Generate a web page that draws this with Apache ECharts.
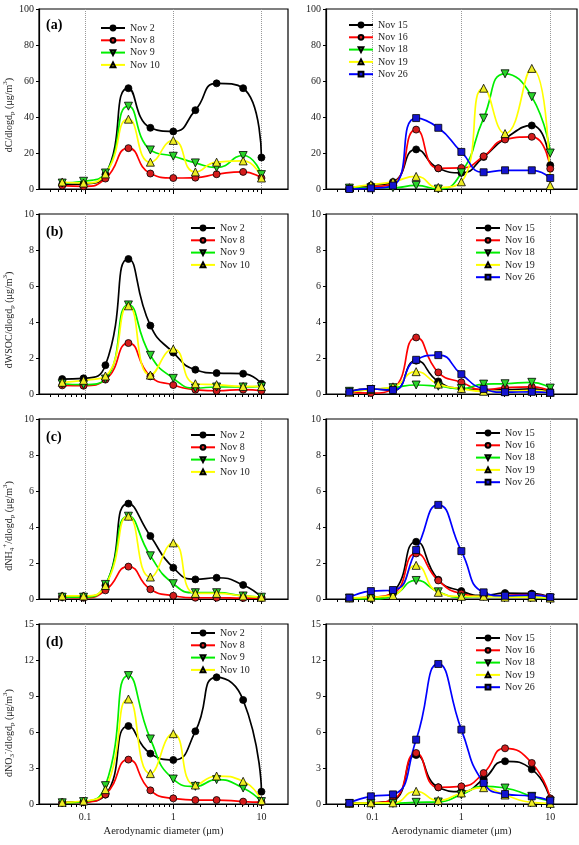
<!DOCTYPE html>
<html><head><meta charset="utf-8">
<script src="https://cdn.jsdelivr.net/npm/echarts@6/dist/echarts.min.js"></script>
<style>html,body{margin:0;padding:0;background:#fff}#c{width:579px;height:845px}</style>
</head><body><div id="c"></div>
<script>
// ---------- data ----------
const diameters = [0.055, 0.096, 0.17, 0.31, 0.55, 1.0, 1.78, 3.1, 6.2, 10];
const leftDays = ['Nov 2', 'Nov 8', 'Nov 9', 'Nov 10'];
const rightDays = ['Nov 15', 'Nov 16', 'Nov 18', 'Nov 19', 'Nov 26'];
const xTickLabels = [0.1, 1, 10];
const xMinorTicks = [0.04,0.05,0.06,0.07,0.08,0.09,0.2,0.3,0.4,0.5,0.6,0.7,0.8,0.9,2,3,4,5,6,7,8,9];
const panelLetters = ['(a)', '(b)', '(c)', '(d)'];
const yMaxes = [100, 10, 10, 15];
const yIntervals = [20, 2, 2, 3];
const yNames = [
  'dC/dlogd{sub|p} (μg/m{sup|3})',
  'dWSOC/dlogd{sub|p} (μg/m{sup|3})',
  'dNH{sub|4}{sup|+}/dlogd{sub|p} (μg/m{sup|3})',
  'dNO{sub|3}{sup|-}/dlogd{sub|p} (μg/m{sup|3})'
];
const xTitle = 'Aerodynamic diameter (μm)';

// (a) dC/dlogdp
const cNov2  = [2.5, 2.8, 8, 56, 34, 32, 43.8, 58.7, 56, 17.5];
const cNov8  = [1.9, 1.5, 5.8, 22.7, 8.6, 6.1, 6.3, 8.2, 9.5, 6.1];
const cNov9  = [3.3, 4.3, 8.9, 46, 21.7, 18.2, 14.5, 11.9, 18.6, 8];
const cNov10 = [3.9, 3.3, 8.4, 38.8, 14.9, 27, 9.5, 14.9, 15.6, 6.1];
const cNov15 = [0.7, 1.9, 3.9, 22, 11.5, 9, 17.8, 28, 35.3, 13.2];
const cNov16 = [0.4, 1.1, 3, 33, 11.5, 11.7, 18.2, 27.5, 29, 11.3];
const cNov18 = [0.5, 0.7, 0.7, 2, 0, 9, 39.4, 64, 51.3, 20];
const cNov19 = [0.7, 2.4, 4, 7, 0.9, 4, 56, 30.8, 67, 1.9];
const cNov26 = [0, 0.4, 1.9, 39.4, 34, 20.6, 9.3, 10.4, 10.4, 6.1];
// (b) dWSOC/dlogdp
const wNov2  = [0.83, 0.87, 1.6, 7.5, 3.8, 2.3, 1.35, 1.16, 1.13, 0.57];
const wNov8  = [0.48, 0.46, 0.8, 2.83, 0.98, 0.5, 0.24, 0.18, 0.24, 0.18];
const wNov9  = [0.57, 0.52, 0.83, 4.95, 2.15, 0.87, 0.33, 0.39, 0.39, 0.42];
const wNov10 = [0.65, 0.76, 1.0, 4.9, 1.05, 2.5, 0.57, 0.52, 0.42, 0.42];
const wNov15 = [0.15, 0.28, 0.2, 1.85, 0.7, 0.3, 0.24, 0.24, 0.28, 0.1];
const wNov16 = [0.1, 0.05, 0.3, 3.14, 1.2, 0.65, 0.24, 0.35, 0.4, 0.15];
const wNov18 = [0.15, 0.25, 0.35, 0.5, 0.43, 0.3, 0.55, 0.57, 0.65, 0.33];
const wNov19 = [0.1, 0.25, 0.4, 1.24, 0.55, 0.3, 0.15, 0.15, 0.2, 0.1];
const wNov26 = [0.12, 0.28, 0.22, 1.9, 2.16, 1.1, 0.28, 0.1, 0.12, 0.07];
// (c) dNH4+/dlogdp
const nNov2  = [0.15, 0.15, 0.75, 5.3, 3.5, 1.74, 1.09, 1.18, 0.78, 0.1];
const nNov8  = [0.1, 0.07, 0.48, 1.8, 0.54, 0.18, 0.07, 0.07, 0.05, 0.05];
const nNov9  = [0.1, 0.1, 0.81, 4.6, 2.4, 0.85, 0.35, 0.35, 0.17, 0.1];
const nNov10 = [0.17, 0.17, 0.75, 4.6, 1.22, 3.12, 0.31, 0.31, 0.17, 0.1];
const nNov15 = [0.05, 0.05, 0.4, 3.18, 1.07, 0.44, 0.2, 0.33, 0.3, 0.1];
const nNov16 = [0.05, 0.1, 0.3, 2.53, 1.03, 0.3, 0.15, 0.2, 0.25, 0.1];
const nNov18 = [0.05, 0.0, 0.2, 1.03, 0.4, 0.1, 0.15, 0.15, 0.1, 0.05];
const nNov19 = [0.05, 0.1, 0.2, 1.87, 0.37, 0.15, 0.15, 0.1, 0.1, 0.05];
const nNov26 = [0.07, 0.44, 0.5, 2.72, 5.23, 2.66, 0.37, 0.18, 0.22, 0.1];
// (d) dNO3-/dlogdp
const oNov2  = [0.14, 0.2, 0.78, 6.5, 4.2, 3.67, 6.06, 10.56, 8.67, 1.03];
const oNov8  = [0.1, 0.15, 0.8, 3.7, 1.14, 0.47, 0.33, 0.33, 0.2, 0.15];
const oNov9  = [0.1, 0.2, 1.53, 10.7, 5.42, 2.08, 1.47, 2.03, 1.33, 0.2];
const oNov10 = [0.14, 0.25, 1.2, 8.75, 2.53, 5.86, 1.58, 2.33, 1.89, 0.28];
const oNov15 = [0.05, 0.1, 0.3, 4.08, 1.39, 1.03, 2.08, 3.56, 2.89, 0.36];
const oNov16 = [0.05, 0.1, 0.36, 4.25, 1.39, 1.47, 2.58, 4.64, 3.42, 0.47];
const oNov18 = [0.05, 0.05, 0.05, 0.14, 0.17, 0.78, 1.47, 1.33, 0.64, 0.25];
const oNov19 = [0.05, 0.1, 0.1, 1.06, 0.3, 0.92, 1.36, 0.75, 0.14, 0.05];
const oNov26 = [0.08, 0.64, 0.8, 5.36, 11.67, 6.2, 1.75, 0.83, 0.64, 0.28];

const panelData = [
  [[cNov2, cNov8, cNov9, cNov10], [cNov15, cNov16, cNov18, cNov19, cNov26]],
  [[wNov2, wNov8, wNov9, wNov10], [wNov15, wNov16, wNov18, wNov19, wNov26]],
  [[nNov2, nNov8, nNov9, nNov10], [nNov15, nNov16, nNov18, nNov19, nNov26]],
  [[oNov2, oNov8, oNov9, oNov10], [oNov15, oNov16, oNov18, oNov19, oNov26]]
];

// ---------- styles ----------
const FONT = 'Liberation Serif';
const BLACK = {line: '#000000', fill: '#000000', symbol: 'circle', size: 7, rot: 0};
const RED = {line: '#ff0000', fill: '#d41c1c', symbol: 'circle', size: 7, rot: 0};
const GREEN = {line: '#00ee00', fill: '#2ad42a', symbol: 'triangle', size: 8, rot: 180};
const YELLOW = {line: '#ffff00', fill: '#eeee22', symbol: 'triangle', size: 8, rot: 0};
const BLUE = {line: '#0000ff', fill: '#1414d0', symbol: 'rect', size: 7, rot: 0};
const styleByDay = {
  'Nov 2': BLACK, 'Nov 8': RED, 'Nov 9': GREEN, 'Nov 10': YELLOW,
  'Nov 15': BLACK, 'Nov 16': RED, 'Nov 18': GREEN, 'Nov 19': YELLOW, 'Nov 26': BLUE
};

const colX = [39, 326];
const colW = [249, 251];
const rowTop = [9, 214, 419, 624];
const rowH = 180;
const legendPos = [
  [[100, 22], [348, 19]],
  [[190, 222], [475, 222]],
  [[190, 429], [475, 427]],
  [[190, 627], [475, 632]]
];
const yNameCenter = [115, 320, 526, 733];

const grid = [], xAxis = [], yAxis = [], series = [], legend = [], title = [], graphic = [];

for (let r = 0; r < 4; r++) {
  for (let c = 0; c < 2; c++) {
    const k = r * 2 + c;
    grid[k] = {left: colX[c], top: rowTop[r], width: colW[c], height: rowH,
      show: true, borderColor: '#000', borderWidth: 1.2, backgroundColor: 'transparent'};
    grid[8 + k] = {left: colX[c], top: rowTop[r], width: colW[c], height: rowH, show: false};
    xAxis[k] = {
      gridIndex: k, type: 'log', logBase: 10, min: 0.03, max: 20,
      axisLine: {show: true, onZero: false, lineStyle: {color: '#000', width: 1.2}},
      axisTick: {show: true, customValues: xTickLabels, length: 5, lineStyle: {color: '#000'}},
      axisLabel: {show: r === 3, customValues: xTickLabels, fontFamily: FONT, fontSize: 10, color: '#222', margin: 8,
        formatter: v => String(+(+v).toPrecision(3))},
      splitLine: {show: true, lineStyle: {type: 'dotted', color: '#999', width: 1}},
      name: r === 3 ? xTitle : '', nameLocation: 'middle', nameGap: 22,
      nameTextStyle: {fontFamily: FONT, fontSize: 10.5, color: '#222'}
    };
    xAxis[8 + k] = {
      gridIndex: 8 + k, type: 'log', logBase: 10, min: 0.03, max: 20,
      axisLine: {show: false},
      axisTick: {show: true, customValues: xMinorTicks, length: 3, lineStyle: {color: '#000'}},
      axisLabel: {show: false}, splitLine: {show: false}
    };
    yAxis[k] = {
      gridIndex: k, type: 'value', min: 0, max: yMaxes[r], interval: yIntervals[r],
      axisLine: {show: true, lineStyle: {color: '#000', width: 1.2}},
      axisTick: {show: true, length: 3, lineStyle: {color: '#000'}},
      axisLabel: {fontFamily: FONT, fontSize: 10, color: '#222', margin: 5},
      splitLine: {show: false}
    };
    yAxis[8 + k] = {gridIndex: 8 + k, type: 'value', min: 0, max: 1, show: false};

    const days = c === 0 ? leftDays : rightDays;
    days.forEach((day, i) => {
      const st = styleByDay[day];
      const vals = panelData[r][c][i];
      series.push({
        type: 'line', name: day, xAxisIndex: k, yAxisIndex: k,
        data: diameters.map((d, j) => [d, vals[j]]),
        smooth: 0.55, symbol: st.symbol, symbolSize: st.size, symbolRotate: st.rot,
        color: st.line,
        lineStyle: {color: st.line, width: 1.7},
        itemStyle: {color: st.fill, borderColor: '#000', borderWidth: 0.8},
        emphasis: {disabled: true}
      });
    });
    legend.push({
      orient: 'vertical', left: legendPos[r][c][0], top: legendPos[r][c][1],
      data: days, itemWidth: 24, itemHeight: 6, itemGap: 0.3, padding: 0,
      textStyle: {fontFamily: FONT, fontSize: 10, color: '#222', lineHeight: 12}
    });
  }
  title.push({
    text: panelLetters[r], left: 46, top: [18, 225, 430, 635][r], padding: 0,
    textStyle: {fontFamily: FONT, fontWeight: 'bold', fontSize: 14, color: '#000'}
  });
  graphic.push({
    type: 'text', x: 9, y: yNameCenter[r], rotation: Math.PI / 2,
    style: {
      text: yNames[r], fill: '#222', align: 'center', verticalAlign: 'middle',
      font: '10px "Liberation Serif"',
      rich: {
        sub: {fontSize: 7, fontFamily: FONT, verticalAlign: 'bottom', lineHeight: 14, fill: '#222'},
        sup: {fontSize: 7, fontFamily: FONT, verticalAlign: 'top', lineHeight: 14, fill: '#222'}
      }
    }
  });
}

const chart = echarts.init(document.getElementById('c'), null, {renderer: 'canvas'});
chart.setOption({
  animation: false, backgroundColor: '#fff',
  grid, xAxis, yAxis, series, legend, title, graphic
});
</script>
</body></html>
